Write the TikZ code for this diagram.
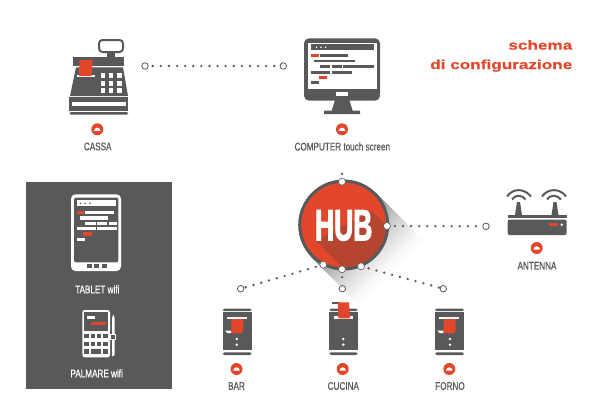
\documentclass[tikz,border=0pt]{standalone}
\usepackage{fontspec}
\setmainfont[FakeStretch=0.74,FakeBold=0.35]{Liberation Sans}
\newfontfamily\titlefont[FakeStretch=1.32,FakeBold=0.4]{Liberation Sans Bold}
\newfontfamily\hubfont[FakeStretch=0.6,FakeBold=2.2]{Liberation Sans Bold}
\definecolor{hubgray}{HTML}{58595B}
\definecolor{hubred}{HTML}{E2462B}
\definecolor{hubdark}{HTML}{B5452E}
\tikzset{
  port/.style={circle,draw=hubgray,fill=white,line width=0.8pt,minimum size=6.5pt,inner sep=0pt},
  hubport/.style={port,draw=hubgray,line width=0.6pt,minimum size=7pt},
  dotlink/.style={draw=hubgray,line width=2.6pt,line cap=round,dash pattern=on 0pt off 8.1pt,dash phase=4pt},
  lab/.style={font=\fontsize{11}{12}\selectfont,text=hubgray,inner sep=0pt},
  wlab/.style={lab,text=white},
  titletext/.style={font=\titlefont\fontsize{13}{14}\selectfont,text=hubred,inner sep=0pt,anchor=east},
  dk/.style={fill=hubgray,draw=none},
  wh/.style={fill=white,draw=none},
  rd/.style={fill=hubred,draw=none}
}
% status badge
\newcommand{\badge}[2]{%
  \fill[hubred] (#1,#2) circle (6);
  \fill[white] (#1-3.4,#2+1.6) .. controls (#1-2.6,#2-2.8) and (#1+2.6,#2-2.8) .. (#1+3.4,#2+1.6) -- cycle;
}
\begin{document}
\begin{tikzpicture}[x=1pt,y=-1pt]
\useasboundingbox (0,0) rectangle (600,415);
\fill[white] (0,0) rectangle (600,415);

%% title
\node[titletext] (title1) at (572.5,45) {schema};
\node[titletext] (title2) at (572.5,65.7) {di configurazione};

%% cash register
\draw[hubgray,line width=2pt,rounded corners=3.5pt] (99,40) rectangle (123,52);
\fill[dk] (107,52) rectangle (115,58);
\fill[dk] (72.7,57.3) rectangle (124,66);
\fill[dk] (76,67.3) -- (123,67.3) -- (128,96) -- (70,96) -- cycle;
\fill[wh] (76.7,75) rectangle (95,77);
\fill[rd] (79.5,60) -- (92.7,60) -- (91.5,76) -- (79,76) -- cycle;
\foreach \kx in {100.7,109,117.3} \foreach \ky in {72.7,80.5,88.3}
  \fill[wh] (\kx,\ky) rectangle +(4.4,5);
\fill[dk] (69.3,97.3) rectangle (128.3,111);
\fill[wh] (71.5,102) rectangle (126,106);
\fill[dk,rounded corners=1.5pt] (69.3,112) rectangle (128.3,114.5);
\badge{97.3}{129.3}
\node[lab] (cassa) at (97.7,146.5) {CASSA};

%% computer
\fill[dk,rounded corners=5pt] (304,38.3) rectangle (380,100.7);
\fill[wh] (308.3,42.7) rectangle (376.7,89.3);
\fill[dk] (310.7,44.3) rectangle (374,50);
\foreach \dx in {316.5,321,325.5} \fill[wh] (\dx,47.2) circle (0.9);
\fill[rd] (310.7,54) rectangle (318.7,56.7);
\fill[dk] (320,54) rectangle (348.3,56.7);
\fill[dk] (314.3,59.7) rectangle (354.7,62.3);
\fill[dk] (320,65.3) rectangle (330,68);
\fill[dk] (331.7,65.3) rectangle (341.7,68);
\fill[dk] (343.3,65.3) rectangle (374,68);
\fill[dk] (310.7,71) rectangle (330,73.7);
\fill[dk] (331.7,71) rectangle (351.7,73.7);
\fill[rd] (318.7,76) rectangle (327.3,78.7);
\fill[dk] (310.7,81.3) rectangle (318.7,84);
\fill[wh] (336,91.7) rectangle (348.3,96);
\fill[dk] (335,100) -- (349.3,100) -- (352.7,110.7) -- (360,110.7) -- (360,114) -- (324,114) -- (324,110.7) -- (331.7,110.7) -- cycle;
\badge{342}{129.3}
\node[lab] (computer) at (342.3,146.5) {COMPUTER touch screen};

%% gray panel
\fill[hubgray] (25.7,181.7) rectangle (172,389.3);
\fill[wh,rounded corners=4.5pt] (71,194.3) rectangle (121,271);
\fill[dk,rounded corners=2pt] (74,197.7) rectangle (118.3,262.3);
\fill[wh] (76.7,200.3) rectangle (116,206);
\foreach \dx in {80.5,85,90} \fill[hubgray] (\dx,203.2) circle (0.9);
\fill[rd] (76.7,210.7) rectangle (84,214);
\fill[wh] (85,210.7) rectangle (114,214);
\fill[wh] (80,216.3) rectangle (108,219.7);
\fill[wh] (85,221.7) rectangle (95.7,224.7);
\fill[wh] (97.3,221.7) rectangle (107.3,224.7);
\fill[wh] (108.7,221.7) rectangle (116.7,224.7);
\fill[wh] (76.7,226.7) rectangle (96,230);
\fill[wh] (97.3,226.7) rectangle (116.7,230);
\fill[rd] (83.3,232.3) rectangle (92.3,235.7);
\fill[wh] (76.7,237.7) rectangle (84.7,241.3);
\foreach \dx in {86.7,94.3,101.7} \fill[hubgray] (\dx,263.7) rectangle +(4.8,4.3);
\node[wlab] (tablet) at (97.3,289.3) {TABLET wifi};

%% handheld
\fill[wh,rounded corners=2.5pt] (82.3,310) rectangle (110,357.3);
\fill[dk] (84.3,312.3) rectangle (108,331);
\fill[wh] (86.7,316) rectangle (95,319);
\fill[rd] (91,321.7) rectangle (105.7,324.7);
\foreach \kx in {84.3,90.7,97,103.3} \foreach \ky in {334,341.7}
  \fill[dk] (\kx,\ky) rectangle +(4.3,4.4);
\fill[dk] (84.3,349.3) rectangle +(4.3,5);
\fill[dk] (90.7,349.3) rectangle (101.3,354.3);
\fill[dk] (103.3,349.3) rectangle +(4.3,5);
\fill[wh] (112,318) -- (113.3,314.5) -- (114.7,318) -- (114.7,355) -- (112,356.5) -- cycle;
\fill[wh] (110,334) rectangle (116,339.5);
\fill[dk] (111,335) rectangle (115,338.5);
\node[wlab] (palmare) at (96.7,373.3) {PALMARE wifi};

%% hub shadow
\coordinate (hubc) at (343.7,225);
\foreach \s in {70,68,...,0}{
  \pgfmathsetmacro{\shd}{50*(1-\s/70)^1.4}
  \pgfmathsetmacro{\sd}{0.707*\s}
  \fill[black!\shd] (375.7,193) -- (375.7+\sd,193+\sd) -- (311.7+\sd,257+\sd) -- (311.7,257) -- cycle;
}
%% hub disc
\fill[hubred] (hubc) circle (44);
\begin{scope}
  \clip (hubc) circle (44);
  \fill[hubdark] (316,240.7) -- (371.7,210.7) -- (431.7,270.7) -- (376,300.7) -- cycle;
\end{scope}
\draw[hubgray,line width=3pt] (hubc) circle (44);
\node[text=white,font=\hubfont\fontsize{44}{44}\selectfont,inner sep=0pt] (hub) at (343.7,225.5) {HUB};

%% router
\draw[hubgray,line width=2pt] (507,196.5) .. controls (513,188) and (524,188) .. (531,196.5);
\draw[hubgray,line width=2pt] (512,199.5) .. controls (515,194.5) and (522,194.5) .. (525.5,199.5);
\draw[hubgray,line width=2pt] (542,196.5) .. controls (548,188) and (560,188) .. (566,196.5);
\draw[hubgray,line width=2pt] (547,199.5) .. controls (550,194.5) and (557,194.5) .. (561,199.5);
\fill[dk] (515,215) -- (517,202) -- (520,202) -- (522,215) -- cycle;
\fill[dk] (551.5,215) -- (553.5,202) -- (556.5,202) -- (558.5,215) -- cycle;
\fill[dk] (507.7,215) rectangle (566.7,217.7);
\fill[dk,rounded corners=2pt] (507.7,219.5) rectangle (566.7,235);
\fill[rd] (549,223.3) rectangle (558,226);
\fill[wh] (561.7,224.7) circle (1.4);
\badge{536.7}{248}
\node[lab] (antenna) at (537,265.7) {ANTENNA};

%% order printers
\foreach \px/\pw/\rx/\sx/\dx/\bx in {222.7/29/231.3/226.7/236.7/236.5, 435/29/443.7/438.7/450/449.3}{
  \fill[dk,rounded corners=1.5pt] (\px,308.7) rectangle +(\pw,2.5);
  \fill[dk] (\px,312.3) rectangle +(\pw,38);
  \fill[dk,rounded corners=1.5pt] (\px,352.3) rectangle +(\pw,2.7);
  \fill[wh] (\sx,317.3) rectangle +(20.6,2);
  \fill[wh] (\rx-6.3,330.7) -- (\rx,330.7) -- (\rx,333) -- (\rx-4,333) -- cycle;
  \fill[rd] (\rx,319) -- (\rx+12,319) -- (\rx+12,331) -- (\rx+10,333.3) -- (\rx,333.3) -- cycle;
  \fill[wh] (\dx,339) circle (1.4);
  \fill[wh] (\dx,344.7) circle (1.4);
  \badge{\bx}{369}
}
\fill[dk,rounded corners=1.5pt] (329.3,308.7) rectangle +(28.4,2.5);
\fill[dk] (329.3,312.3) rectangle +(28.4,38);
\fill[dk,rounded corners=1.5pt] (329.3,352.3) rectangle +(28.4,2.7);
\fill[dk] (332,302.3) rectangle (340,304);
\fill[wh] (334.3,316) rectangle (353.3,319);
\fill[rd] (337.7,302.3) -- (349,302.3) -- (350,318.3) -- (338.5,318.3) -- cycle;
\fill[wh] (343.3,339) circle (1.4);
\fill[wh] (343.3,344.7) circle (1.4);
\badge{342.7}{369}
\node[lab] (bar) at (236.5,386) {BAR};
\node[lab] (cucina) at (343.3,386) {CUCINA};
\node[lab] (forno) at (450,386) {FORNO};

%% ports and links
\node[port] (pcassa) at (145,66) {};
\node[port] (pcomp) at (283.3,66) {};
\node[hubport] (htop) at (342,181.7) {};
\node[hubport] (hright) at (387,226) {};
\node[hubport] (hleft) at (323.3,264.7) {};
\node[hubport] (hbot) at (342,269.3) {};
\node[hubport] (hlow) at (361,266.3) {};
\node[port] (pant) at (486,226.3) {};
\node[port] (pbar) at (240.7,288.7) {};
\node[port] (pcuc) at (342.3,288.7) {};
\node[port] (pfor) at (443.3,288.7) {};
\coordinate (uptop) at (342,171);
\draw[dotlink] (pcassa) -- (pcomp);
\draw[dotlink] (htop) -- (uptop);
\draw[dotlink] (hright) -- (pant);
\draw[dotlink] (hleft) -- (pbar);
\draw[dotlink] (hbot) -- (pcuc);
\draw[dotlink] (hlow) -- (pfor);
\end{tikzpicture}
\end{document}
